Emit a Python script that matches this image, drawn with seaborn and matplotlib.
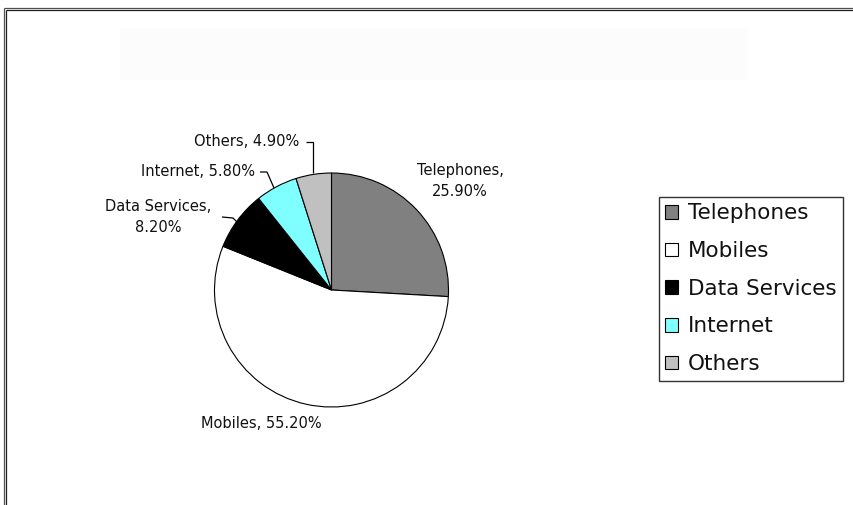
import matplotlib
matplotlib.use("Agg")
import matplotlib.pyplot as plt
from matplotlib.patches import Rectangle
import seaborn as sns

# Revenue share by service line
categories = ["Telephones", "Mobiles", "Data Services", "Internet", "Others"]
shares = [25.90, 55.20, 8.20, 5.80, 4.90]
slice_colors = ["#808080", "#ffffff", "#000000", "#7fffff", "#c0c0c0"]

sns.set_style("white")
plt.rcParams["font.family"] = ["DejaVu Sans"]

W, H = 854, 505
fig = plt.figure(figsize=(W / 100, H / 100), dpi=100)
ax = fig.add_axes([0, 0, 1, 1])
ax.set_xlim(0, W)
ax.set_ylim(0, H)
ax.set_aspect("equal")
ax.axis("off")


def py(y):
    """Convert a top-down pixel row into the axes' bottom-up coordinate."""
    return H - y


# Chart area border (double dark line on top and left)
for off, col in [(0, "#505050"), (2, "#202020")]:
    ax.plot([4 + off, 4 + off], [py(H + 5), py(8 + off)], color=col, lw=0.9,
            solid_capstyle="butt")
    ax.plot([4 + off, W + 5], [py(8 + off), py(8 + off)], color=col, lw=0.9,
            solid_capstyle="butt")

# Faint empty title panel
ax.add_patch(Rectangle((120, py(80)), 628, 52, facecolor="#fcfcfc",
                       edgecolor="none", zorder=0))

palette = sns.color_palette(slice_colors)
wedges, _ = ax.pie(
    shares,
    colors=palette,
    startangle=90,
    counterclock=False,
    radius=117,
    center=(331.5, py(290)),
    wedgeprops=dict(edgecolor="black", linewidth=0.8),
    frame=True,
)
ax.set_xlim(0, W)
ax.set_ylim(0, H)
ax.axis("off")

label_kw = dict(fontsize=10.5, ha="center", va="center", color="#111111",
                linespacing=1.5)


def pct(i):
    return f"{shares[i]:.2f}%"


ax.text(460, py(181), f"{categories[0]},\n{pct(0)}", **label_kw)
ax.text(261, py(424), f"{categories[1]}, {pct(1)}", **label_kw)
ax.text(158, py(217), f"{categories[2]},\n{pct(2)}", **label_kw)
ax.text(198, py(172), f"{categories[3]}, {pct(3)}", **label_kw)
ax.text(247, py(142), f"{categories[4]}, {pct(4)}", **label_kw)

# Leader lines for the small slices
leader_kw = dict(color="black", lw=0.9, solid_capstyle="butt")
ax.plot([306, 313, 313], [py(142), py(142), py(173)], **leader_kw)
ax.plot([260, 267, 274], [py(172), py(172), py(188)], **leader_kw)
ax.plot([222, 233, 237], [py(217), py(218), py(222)], **leader_kw)

leg = ax.legend(
    wedges,
    categories,
    loc="upper left",
    bbox_to_anchor=(659 / W, 1 - 197 / H),
    bbox_transform=fig.transFigure,
    fontsize=15.5,
    frameon=True,
    fancybox=False,
    shadow=False,
    borderaxespad=0,
    borderpad=0.3,
    labelspacing=0.82,
    handlelength=0.6,
    handleheight=0.6,
    handletextpad=0.45,
)
frame = leg.get_frame()
frame.set_edgecolor("black")
frame.set_linewidth(1.0)
frame.set_facecolor("white")
for t in leg.get_texts():
    t.set_color("#111111")

fig.savefig("out.png", dpi=100, facecolor="white")
